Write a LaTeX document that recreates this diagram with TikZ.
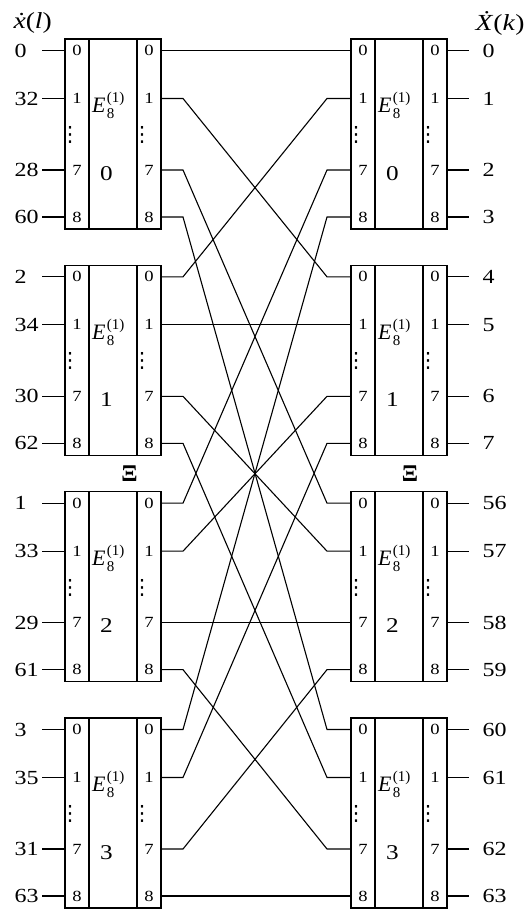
\documentclass[tikz,border=0pt]{standalone}
\usepackage{fontspec}
\usepackage{graphicx}
\setmainfont{Liberation Serif}
\newfontfamily\symfont{DejaVu Sans}
\newcommand\hs[1]{\scalebox{1.2}[1]{#1}}
\newcommand\scrfont{\fontsize{15}{16}\selectfont}
\newcommand\elabel{\textit{E}\kern1.5pt\rlap{\raisebox{10pt}{\scrfont(1)}}\raisebox{-6pt}{\scrfont 8}}
\begin{document}
\begin{tikzpicture}[x=1pt,y=-1pt,line width=1.1pt,
  blk/.style={draw,line width=1.2pt,minimum width=96pt,minimum height=190pt,inner sep=0pt,outer sep=0pt},
  sep/.style={line width=1.1pt},
  big/.style={font=\fontsize{20}{22}\selectfont,inner sep=0pt},
  bnum/.style={font=\fontsize{21}{23}\selectfont,inner sep=0pt},
  elab/.style={font=\fontsize{22}{24}\selectfont,inner sep=0pt},
  pnum/.style={font=\fontsize{15.5}{17}\selectfont,inner sep=0pt},
  vdot/.style={font=\symfont\fontsize{21}{23}\selectfont,inner sep=0pt},
  hdr/.style={font=\fontsize{23}{25}\selectfont,inner sep=0pt},
  xi/.style={font=\bfseries\fontsize{24}{26}\selectfont,inner sep=0pt},
  wire/.style={line width=1.1pt}]
\useasboundingbox (0,0) rectangle (526,912);
\node[hdr,anchor=west] (hx) at (13,23) {\hs{\textit{\.x}(\textit{l})}};
\node[hdr,anchor=east] (hX) at (525,23) {\hs{\textit{\.X}(\textit{k})}};
\foreach \b/\la/\lb/\lc/\ld/\ra/\rb/\rc/\rd in {0/0/32/28/60/0/1/2/3, 1/2/34/30/62/4/5/6/7, 2/1/33/29/61/56/57/58/59, 3/3/35/31/63/60/61/62/63}{
  \pgfmathsetmacro\T{39+226.33*\b}
  \node[blk] (L\b) at (113,\T+95) {};
  \node[blk] (R\b) at (399,\T+95) {};
  \foreach \x in {89,137,375,423} \draw[sep] (\x,\T) -- (\x,\T+190);
  \node[bnum,anchor=base] (Ln\b) at (106.5,\T+141) {\hs{\b}};
  \node[bnum,anchor=base] (Rn\b) at (392.5,\T+141) {\hs{\b}};
  \node[elab,anchor=base west] (Le\b) at (91.5,\T+74) {\elabel};
  \node[elab,anchor=base west] (Re\b) at (377.5,\T+74) {\elabel};
  \node[vdot] (da\b) at (70,\T+96) {⋮};
  \node[vdot] (db\b) at (142,\T+96) {⋮};
  \node[vdot] (dc\b) at (356,\T+96) {⋮};
  \node[vdot] (dd\b) at (428,\T+96) {⋮};
  \foreach \j/\o/\n/\lab/\rab in {0/11.5/0/\la/\ra,1/59.5/1/\lb/\rb,2/131/7/\lc/\rc,3/178/8/\ld/\rd}{
    \coordinate (Li\b\j) at (65,\T+\o);
    \coordinate (Lo\b\j) at (161,\T+\o);
    \coordinate (Ri\b\j) at (351,\T+\o);
    \coordinate (Ro\b\j) at (447,\T+\o);
    \coordinate (xin\b\j) at (42,\T+\o);
    \coordinate (xout\b\j) at (469,\T+\o);
    \node[pnum] (pa\b\j) at (77,\T+\o) {\hs{\n}};
    \node[pnum] (pb\b\j) at (149,\T+\o) {\hs{\n}};
    \node[pnum] (pc\b\j) at (363,\T+\o) {\hs{\n}};
    \node[pnum] (pd\b\j) at (435,\T+\o) {\hs{\n}};
    \node[big,anchor=west] (xl\b\j) at (14,\T+\o) {\hs{\lab}};
    \node[big,anchor=west] (Xl\b\j) at (482,\T+\o) {\hs{\rab}};
    \draw[wire] (xin\b\j) -- (Li\b\j);
    \draw[wire] (Ro\b\j) -- (xout\b\j);
  }
}
\foreach \b in {0,...,3}{
  \foreach \j in {0,...,3}{
    \draw[wire] (Lo\b\j) -- ++(22,0) -- ([xshift=-24pt]Ri\j\b) -- (Ri\j\b);
  }
}
\node[xi] (xiL) at (129.5,474) {Ξ};
\node[xi] (xiR) at (410,474) {Ξ};
\end{tikzpicture}
\end{document}
